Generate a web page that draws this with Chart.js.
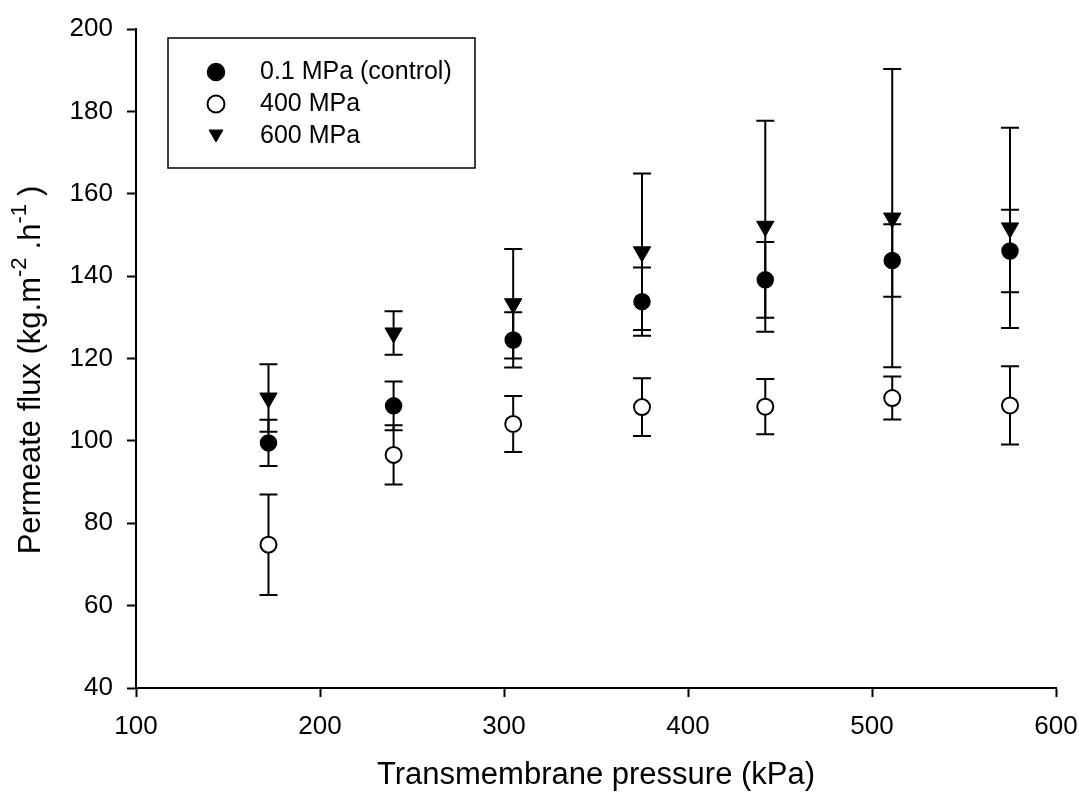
<!DOCTYPE html>
<html>
<head>
<meta charset="utf-8">
<script src="https://cdn.jsdelivr.net/npm/chart.js@4.4.1/dist/chart.umd.min.js"></script>
<style>
  html, body { margin: 0; padding: 0; background: #fff; }
  #wrap { width: 1079px; height: 794px; }
</style>
</head>
<body>
<div id="wrap"><canvas id="grafico_fluxo"></canvas></div>
<script>
// Transmembrane pressure (kPa)
const pressoes = [172, 240, 305, 375, 442, 511, 575];

// Permeate flux (kg.m-2.h-1) and error bars
const fluxoControle = [99.5, 108.5, 124.5, 133.8, 139.1, 143.8, 146.1];
const erroControle = [5.6, 5.9, 6.7, 8.3, 9.2, 8.8, 10.0];

const fluxo400 = [74.8, 96.6, 104.1, 108.2, 108.3, 110.4, 108.6];
const erro400 = [12.2, 7.2, 6.8, 7.0, 6.7, 5.2, 9.5];

const fluxo600 = [110.4, 126.2, 133.3, 145.9, 152.1, 154.1, 151.7];
const erro600 = [8.2, 5.3, 13.3, 19.0, 25.6, 36.2, 24.3];

const nomesSeries = ['0.1 MPa (control)', '400 MPa', '600 MPa'];
const ticksX = [100, 200, 300, 400, 500, 600];
const ticksY = [40, 60, 80, 100, 120, 140, 160, 180, 200];

const FONTE = "'Liberation Sans', Arial, Helvetica, sans-serif";

function montarPontos(xs, ys, erros) {
    return xs.map((x, i) => ({ x: x, y: ys[i], erro: erros[i] }));
}

// error bars drawn under the markers
const pluginErros = {
    id: 'barrasErro',
    beforeDatasetsDraw(chart) {
        const ctx = chart.ctx;
        const sx = chart.scales.x;
        const sy = chart.scales.y;
        ctx.save();
        ctx.strokeStyle = '#000';
        ctx.lineWidth = 2;
        chart.data.datasets.forEach(ds => {
            ds.data.forEach(p => {
                const px = sx.getPixelForValue(p.x);
                const topo = sy.getPixelForValue(p.y + p.erro);
                const base = sy.getPixelForValue(p.y - p.erro);
                ctx.beginPath();
                ctx.moveTo(px, topo);
                ctx.lineTo(px, base);
                ctx.moveTo(px - 9, topo);
                ctx.lineTo(px + 9, topo);
                ctx.moveTo(px - 9, base);
                ctx.lineTo(px + 9, base);
                ctx.stroke();
            });
        });
        ctx.restore();
    }
};

// legend box inside the plot + y title with superscripts
const pluginLegenda = {
    id: 'legendaCaixa',
    afterDraw(chart) {
        const ctx = chart.ctx;
        ctx.save();
        ctx.strokeStyle = '#000';
        ctx.lineWidth = 1.5;
        ctx.strokeRect(168, 38, 307, 130);

        const linhas = [72, 104, 136];
        chart.data.datasets.forEach((ds, i) => {
            const tri = ds.pointStyle === 'triangle';
            ctx.fillStyle = ds.backgroundColor;
            ctx.strokeStyle = ds.borderColor;
            ctx.lineWidth = ds.borderWidth;
            Chart.helpers.drawPoint(ctx, {
                pointStyle: ds.pointStyle,
                radius: tri ? 8 : 8.5,
                rotation: ds.rotation || 0,
                borderWidth: ds.borderWidth
            }, 216, linhas[i] + (tri ? -2 : 0));
            ctx.fillStyle = '#000';
            ctx.font = '25px ' + FONTE;
            ctx.textBaseline = 'middle';
            ctx.textAlign = 'left';
            ctx.fillText(ds.label, 260, linhas[i]);
        });

        // y axis title
        const partes = [
            { t: 'Permeate flux (kg.m', sup: false },
            { t: '-2', sup: true },
            { t: '.h', sup: false },
            { t: '-1', sup: true },
            { t: ')', sup: false }
        ];
        const fonteNormal = '31px ' + FONTE;
        const fonteSup = '22px ' + FONTE;
        let total = 0;
        partes.forEach(p => {
            ctx.font = p.sup ? fonteSup : fonteNormal;
            p.w = ctx.measureText(p.t).width + (p.sup ? 8 : 0);
            total += p.w;
        });
        ctx.translate(31, 370);
        ctx.rotate(-Math.PI / 2);
        ctx.fillStyle = '#000';
        ctx.textAlign = 'left';
        ctx.textBaseline = 'middle';
        let pos = -total / 2;
        partes.forEach(p => {
            ctx.font = p.sup ? fonteSup : fonteNormal;
            ctx.fillText(p.t, pos, p.sup ? -11 : 0);
            pos += p.w;
        });
        ctx.restore();
    }
};

function inicializarGrafico() {
    const ctx = document.getElementById('grafico_fluxo').getContext('2d');
    new Chart(ctx, {
        type: 'scatter',
        data: {
            datasets: [{
                label: nomesSeries[0],
                data: montarPontos(pressoes, fluxoControle, erroControle),
                pointStyle: 'circle',
                pointRadius: 8,
                backgroundColor: '#000',
                borderColor: '#000',
                borderWidth: 1.5
            }, {
                label: nomesSeries[1],
                data: montarPontos(pressoes, fluxo400, erro400),
                pointStyle: 'circle',
                pointRadius: 8,
                backgroundColor: '#fff',
                borderColor: '#000',
                borderWidth: 2
            }, {
                label: nomesSeries[2],
                data: montarPontos(pressoes, fluxo600, erro600),
                pointStyle: 'triangle',
                rotation: 180,
                pointRotation: 180,
                pointRadius: 10,
                backgroundColor: '#000',
                borderColor: '#000',
                borderWidth: 1
            }]
        },
        options: {
            responsive: false,
            animation: false,
            layout: { padding: { top: 29, right: 23, bottom: 0, left: 0 } },
            plugins: {
                legend: { display: false },
                tooltip: { enabled: false }
            },
            scales: {
                x: {
                    type: 'linear',
                    min: 100,
                    max: 600,
                    afterBuildTicks: s => { s.ticks = ticksX.map(v => ({ value: v })); },
                    afterFit: s => { s.height = 106; s.paddingLeft = 0; s.paddingRight = 0; },
                    grid: { drawOnChartArea: false, drawTicks: true, tickLength: 9, tickWidth: 2, tickColor: '#000' },
                    border: { display: true, color: '#000', width: 2 },
                    ticks: { color: '#000', font: { family: FONTE, size: 26 }, padding: 14, maxRotation: 0 },
                    title: {
                        display: true,
                        text: 'Transmembrane pressure (kPa)',
                        color: '#000',
                        font: { family: FONTE, size: 31 },
                        padding: { top: 0, bottom: 0 }
                    }
                },
                y: {
                    type: 'linear',
                    min: 40,
                    max: 200,
                    afterBuildTicks: s => { s.ticks = ticksY.map(v => ({ value: v })); },
                    afterFit: s => { s.width = 136; s.paddingTop = 0; s.paddingBottom = 0; },
                    grid: { drawOnChartArea: false, drawTicks: true, tickLength: 9, tickWidth: 2, tickColor: '#000' },
                    border: { display: true, color: '#000', width: 2 },
                    ticks: { color: '#000', font: { family: FONTE, size: 26 }, padding: 14 }
                }
            }
        },
        plugins: [pluginErros, pluginLegenda]
    });
}

document.getElementById('grafico_fluxo').width = 1079;
document.getElementById('grafico_fluxo').height = 794;
inicializarGrafico();
</script>
</body>
</html>
